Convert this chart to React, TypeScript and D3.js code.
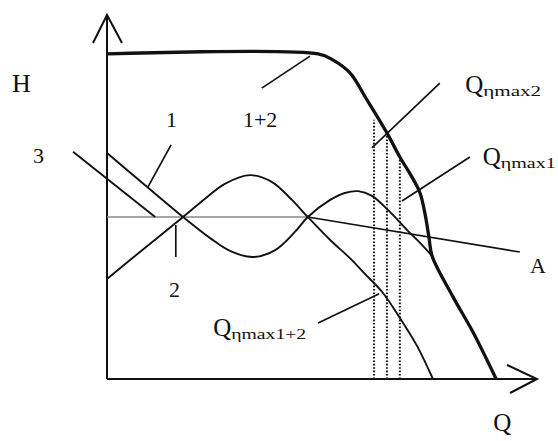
import React from "react";
import * as d3 from "d3";

// Q (flow) and H (head) in relative units, 0..100 along each axis
type Pt = [number, number];

// combined characteristic 1+2 (thick envelope)
const curve12: Pt[] = [
  [0, 89.3], [49.1, 89.3], [52.6, 87.6], [56.5, 84.1], [60.5, 76.6],
  [65.1, 67.6], [68.1, 61.0], [71.2, 54.9], [72.8, 51.1], [74.0, 45.1],
  [74.9, 38.7], [75.6, 33.8], [80.5, 22.5], [85.1, 12.9], [90.5, 0],
];

// pump 1 characteristic
const curve1: Pt[] = [
  [0, 62.1], [8.8, 53.3], [17.7, 44.5], [24.0, 38.7], [28.6, 35.2],
  [34.0, 33.5], [39.1, 35.4], [43.7, 40.4], [46.7, 44.5], [51.9, 49.2],
  [55.3, 51.1], [58.4, 51.6], [61.6, 50.3], [65.8, 45.9], [69.8, 40.9],
  [72.8, 37.4], [75.6, 33.8],
];

// pump 2 characteristic
const curve2: Pt[] = [
  [0, 27.5], [8.8, 36.0], [17.7, 44.5], [22.8, 49.5], [27.4, 53.6],
  [33.3, 56.0], [38.4, 54.1], [43.0, 49.2], [46.7, 44.5], [51.9, 38.2],
  [56.5, 33.2], [60.2, 28.6], [64.0, 23.9], [68.1, 16.8], [72.1, 9.1],
  [75.8, 0],
];

const line3: Pt[] = [[-7.9, 62.4], [11.2, 44.5]];
const levelLine: Pt[] = [[0, 44.5], [46.7, 44.5]];
const lineA: Pt[] = [[46.7, 44.5], [96.0, 34.9]];

// Q at max efficiency (dotted verticals): [Q, H on envelope]
const qMarks: Pt[] = [[62.1, 71.2], [65.1, 66.8], [68.1, 60.7]];

// leader lines from labels
const leaders: Pt[][] = [
  [[14.9, 64.3], [9.5, 52.7]],
  [[36.0, 79.9], [47.2, 88.7]],
  [[16.0, 42.3], [16.0, 33.5]],
  [[77.4, 81.3], [61.6, 63.5]],
  [[84.4, 61.0], [68.6, 48.9]],
  [[49.1, 15.4], [63.3, 23.4]],
];

const plainLabels = [
  { text: "H", q: -22.1, h: 78.8, size: 26 },
  { text: "3", q: -17.2, h: 59.3, size: 22 },
  { text: "1", q: 13.7, h: 69.2, size: 22 },
  { text: "1+2", q: 31.6, h: 69.2, size: 22 },
  { text: "2", q: 14.4, h: 22.5, size: 22 },
  { text: "A", q: 98.4, h: 29.1, size: 22 },
  { text: "Q", q: 89.8, h: -14.3, size: 25 },
];

const qLabels = [
  { sub: "ηmax2", q: 83.3, h: 78.6, w: 58 },
  { sub: "ηmax1", q: 87.4, h: 58.8, w: 55 },
  { sub: "ηmax1+2", q: 24.7, h: 11.8, w: 75 },
];

const W = 558;
const H = 441;
const ink = "#111";
const font = "'Liberation Serif', 'DejaVu Serif', serif";

export default function App() {
  const x = d3.scaleLinear().domain([0, 100]).range([107, 537]);
  const y = d3.scaleLinear().domain([0, 100]).range([379, 15]);

  const smooth = d3
    .line<Pt>()
    .x((d) => x(d[0]))
    .y((d) => y(d[1]))
    .curve(d3.curveCatmullRom.alpha(0.5));
  const straight = d3
    .line<Pt>()
    .x((d) => x(d[0]))
    .y((d) => y(d[1]));

  const x0 = x(0), y0 = y(0), xEnd = x(100), yEnd = y(100);

  return (
    <svg
      width={W}
      height={H}
      style={{ position: "absolute", left: 0, top: 0, background: "#fff" }}
    >
      {/* axes */}
      <g stroke={ink} strokeWidth={2} fill="none">
        <line x1={x0} y1={y0} x2={x0} y2={yEnd} />
        <line x1={x0} y1={y0} x2={xEnd} y2={y0} />
        <polyline points={`${x0 - 14},${yEnd + 28} ${x0},${yEnd} ${x0 + 15},${yEnd + 28}`} />
        <polyline points={`${xEnd - 30},${y0 - 14} ${xEnd},${y0} ${xEnd - 27},${y0 + 14}`} />
      </g>

      {/* reference level and line A */}
      <path d={straight(levelLine) ?? ""} stroke="#888" strokeWidth={1.3} fill="none" />
      <path d={straight(lineA) ?? ""} stroke={ink} strokeWidth={1.7} fill="none" />

      {/* dotted verticals */}
      <g stroke={ink} strokeWidth={2} strokeDasharray="1.6,1.8" fill="none">
        {qMarks.map((d, i) => (
          <line key={i} x1={x(d[0])} y1={y0} x2={x(d[0])} y2={y(d[1])} />
        ))}
      </g>

      {/* characteristics */}
      <g fill="none" stroke={ink} strokeLinejoin="round">
        <path d={smooth(curve1) ?? ""} strokeWidth={1.9} />
        <path d={smooth(curve2) ?? ""} strokeWidth={1.9} />
        <path d={straight(line3) ?? ""} strokeWidth={1.9} />
        <path d={smooth(curve12) ?? ""} strokeWidth={3.3} />
      </g>

      {/* leaders */}
      <g stroke={ink} strokeWidth={1.7} fill="none">
        {leaders.map((l, i) => (
          <path key={i} d={straight(l) ?? ""} />
        ))}
      </g>

      {/* labels */}
      <g fill={ink} fontFamily={font}>
        {plainLabels.map((l) => (
          <text key={l.text} x={x(l.q)} y={y(l.h)} fontSize={l.size}>
            {l.text}
          </text>
        ))}
        {qLabels.map((l) => (
          <g key={l.sub}>
            <text x={x(l.q)} y={y(l.h)} fontSize={25}>
              Q
            </text>
            <text
              x={x(l.q) + 18}
              y={y(l.h) + 3}
              fontSize={15}
              textLength={l.w}
              lengthAdjust="spacingAndGlyphs"
            >
              {l.sub}
            </text>
          </g>
        ))}
      </g>
    </svg>
  );
}
